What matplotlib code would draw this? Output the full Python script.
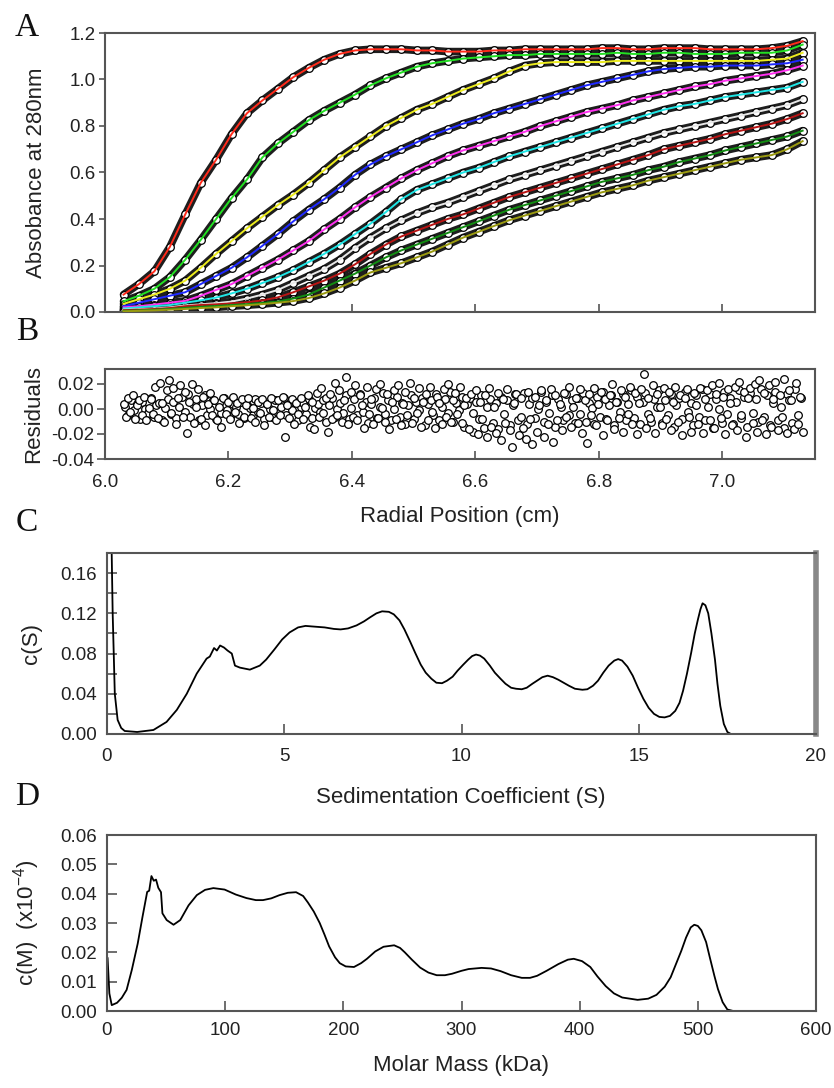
import numpy as np
import matplotlib
matplotlib.use("Agg")
import matplotlib.pyplot as plt
from matplotlib.ticker import MultipleLocator, FormatStrFormatter, FixedLocator

plt.rcParams['font.family'] = ['Liberation Sans', 'DejaVu Sans']
plt.rcParams['axes.unicode_minus'] = False
plt.rcParams['mathtext.fontset'] = 'custom'
plt.rcParams['mathtext.rm'] = 'Liberation Sans'
plt.rcParams['mathtext.it'] = 'Liberation Sans:italic'
plt.rcParams['mathtext.bf'] = 'Liberation Sans:bold'

# ---------------- Panel A data: absorbance scans (radial position, cm) ----------------
radius = np.linspace(6.03, 7.13, 45)

scan_red = [0.075, 0.12, 0.175, 0.28, 0.42,
            0.555, 0.655, 0.765, 0.855, 0.91,
            0.96, 1.01, 1.05, 1.085, 1.11,
            1.125, 1.13, 1.13, 1.13, 1.125,
            1.125, 1.12, 1.12, 1.12, 1.125,
            1.125, 1.13, 1.13, 1.13, 1.13,
            1.13, 1.135, 1.135, 1.13, 1.13,
            1.135, 1.135, 1.135, 1.13, 1.13,
            1.13, 1.13, 1.135, 1.145, 1.165]
scan_green = [0.046, 0.07, 0.10, 0.15, 0.225,
              0.31, 0.40, 0.49, 0.57, 0.665,
              0.725, 0.775, 0.825, 0.865, 0.90,
              0.935, 0.975, 1.005, 1.03, 1.055,
              1.07, 1.08, 1.09, 1.095, 1.10,
              1.105, 1.105, 1.11, 1.11, 1.11,
              1.11, 1.11, 1.115, 1.11, 1.11,
              1.115, 1.115, 1.11, 1.11, 1.11,
              1.115, 1.115, 1.115, 1.125, 1.15]
scan_yellow = [0.035, 0.055, 0.075, 0.10, 0.135,
               0.19, 0.25, 0.305, 0.36, 0.41,
               0.46, 0.505, 0.555, 0.61, 0.665,
               0.71, 0.755, 0.80, 0.835, 0.87,
               0.895, 0.925, 0.955, 0.98, 1.005,
               1.035, 1.06, 1.07, 1.075, 1.075,
               1.075, 1.075, 1.08, 1.08, 1.08,
               1.08, 1.08, 1.08, 1.08, 1.08,
               1.08, 1.08, 1.085, 1.09, 1.115]
scan_blue = [0.025, 0.04, 0.055, 0.07, 0.085,
             0.12, 0.155, 0.19, 0.235, 0.285,
             0.335, 0.39, 0.44, 0.485, 0.535,
             0.59, 0.635, 0.67, 0.70, 0.73,
             0.76, 0.785, 0.81, 0.83, 0.855,
             0.875, 0.895, 0.915, 0.935, 0.955,
             0.975, 0.99, 1.005, 1.02, 1.035,
             1.045, 1.05, 1.055, 1.055, 1.06,
             1.06, 1.06, 1.065, 1.07, 1.085]
scan_magenta = [0.02, 0.025, 0.032, 0.04, 0.048,
                0.07, 0.095, 0.12, 0.155, 0.19,
                0.225, 0.265, 0.305, 0.355, 0.40,
                0.45, 0.495, 0.535, 0.575, 0.61,
                0.64, 0.67, 0.695, 0.715, 0.735,
                0.755, 0.775, 0.80, 0.82, 0.84,
                0.86, 0.875, 0.89, 0.91, 0.925,
                0.94, 0.955, 0.97, 0.98, 0.995,
                1.005, 1.015, 1.025, 1.04, 1.06]
scan_cyan = [0.015, 0.02, 0.025, 0.03, 0.04,
             0.05, 0.062, 0.08, 0.10, 0.125,
             0.15, 0.18, 0.215, 0.25, 0.29,
             0.335, 0.38, 0.43, 0.485, 0.525,
             0.55, 0.575, 0.60, 0.62, 0.645,
             0.67, 0.69, 0.71, 0.73, 0.75,
             0.77, 0.79, 0.81, 0.83, 0.85,
             0.87, 0.885, 0.895, 0.91, 0.925,
             0.935, 0.945, 0.955, 0.965, 0.99]
scan_gray = [0.01, 0.012, 0.015, 0.02, 0.028,
             0.033, 0.038, 0.045, 0.058, 0.075,
             0.095, 0.125, 0.155, 0.185, 0.225,
             0.275, 0.32, 0.36, 0.395, 0.425,
             0.45, 0.47, 0.495, 0.52, 0.545,
             0.57, 0.59, 0.61, 0.63, 0.65,
             0.67, 0.69, 0.71, 0.73, 0.75,
             0.77, 0.785, 0.80, 0.815, 0.83,
             0.845, 0.86, 0.875, 0.89, 0.915]
scan_darkred = [0.008, 0.01, 0.013, 0.017, 0.025,
                0.03, 0.033, 0.037, 0.042, 0.05,
                0.063, 0.085, 0.11, 0.135, 0.165,
                0.205, 0.25, 0.29, 0.325, 0.35,
                0.375, 0.40, 0.42, 0.445, 0.47,
                0.495, 0.515, 0.535, 0.555, 0.575,
                0.595, 0.615, 0.635, 0.655, 0.675,
                0.70, 0.715, 0.73, 0.745, 0.765,
                0.78, 0.795, 0.81, 0.83, 0.855]
scan_darkgreen = [0.005, 0.007, 0.01, 0.013, 0.018,
                  0.022, 0.026, 0.03, 0.034, 0.039,
                  0.045, 0.058, 0.075, 0.105, 0.135,
                  0.165, 0.20, 0.235, 0.265, 0.29,
                  0.315, 0.34, 0.365, 0.39, 0.415,
                  0.44, 0.46, 0.48, 0.50, 0.52,
                  0.54, 0.56, 0.575, 0.59, 0.61,
                  0.625, 0.645, 0.66, 0.675, 0.695,
                  0.71, 0.725, 0.74, 0.755, 0.78]
scan_olive = [0.003, 0.005, 0.007, 0.01, 0.013,
              0.017, 0.02, 0.025, 0.029, 0.034,
              0.04, 0.047, 0.06, 0.08, 0.105,
              0.135, 0.17, 0.19, 0.21, 0.235,
              0.26, 0.29, 0.32, 0.345, 0.37,
              0.395, 0.415, 0.435, 0.455, 0.475,
              0.495, 0.515, 0.53, 0.545, 0.565,
              0.58, 0.595, 0.61, 0.625, 0.64,
              0.655, 0.665, 0.675, 0.70, 0.735]

scans = [scan_red, scan_green, scan_yellow, scan_blue, scan_magenta,
         scan_cyan, scan_gray, scan_darkred, scan_darkgreen, scan_olive]
fit_colors = ['#ff2a1a', '#22e022', '#ecec1e', '#1e28ff', '#ff30f0',
              '#1ee6e6', '#e8e8e8', '#b81414', '#128c12', '#9a9a10']

# ---------------- Panel B data: residuals (x 1e-3) ----------------
resid_x = np.linspace(6.03, 7.13, 300)
resid_milli = [
    4, -6, 9, -2, 11, -8, 3, 7, -5, 10, -9, 1, 8, -4, 18, -7, 21, 5, -10, 15,
    23, -3, 17, -12, 9, 19, -6, 14, -19, 6, 20, -11, 2, 16, -8, 10, -13, 4, 13, -5,
    7, -9, 2, -14, 9, -4, 6, -8, 10, -2, 5, -11, 8, -6, 3, 9, -7, 1, -10, 6,
    -3, 8, -13, 4, -6, 9, -1, -9, 7, -5, 10, -22, 3, -7, 8, -12, 5, -4, 9, -8,
    2, 11, -14, 6, -16, 13, -6, 17, -3, 9, -18, 12, -8, 21, -5, 15, -10, 7, 26, -12,
    14, -6, 19, -9, 11, 3, -15, 18, -4, 8, -12, 16, -7, 20, 1, -10, 12, -16, 6, 15,
    -8, 19, -13, 4, 14, -5, 21, -11, 9, -3, 17, -14, 6, 12, -9, 18, -2, -15, 10, 5,
    -12, 16, -6, 20, -10, 7, 13, -4, 18, -11, 3, 9, -16, 12, -3, 15, -20, 6, -8, 11,
    -22, 17, -14, 2, -19, 13, -25, 8, -11, 16, -17, -30, 5, 12, -21, 9, -15, -24, 14, -8,
    -28, 10, -18, 3, 15, -22, 7, -12, 16, -26, 11, -9, 4, -17, 13, -6, 18, -14, 2, 9,
    -11, 16, -19, 7, -27, 12, -5, 17, -13, 4, 14, -21, 8, -9, 11, 20, -16, 6, -7, 15,
    -18, 10, -4, 18, -12, 13, -20, 5, 16, 28, -15, 9, -7, 19, -19, 12, 2, -13, 17, -8,
    14, -17, 6, 18, -10, 11, -21, 9, 16, -6, -18, 13, 3, -12, 17, -19, 8, 15, -9, 19,
    -15, 12, 21, -7, 10, -20, 16, 5, -13, 18, -17, 22, -5, 14, -22, 9, 17, -11, 20, -18,
    23, -9, 13, -20, 19, -14, 8, 22, -17, 11, -6, 24, -19, 15, 7, -16, 21, -12, 10, -18,
]
resid_core_x = np.linspace(6.033, 7.127, 240)
resid_core_milli = [
    2, -5, 7, -1, 4, -8, 6, 0, -3, 9, -6, 3, 5, -9, 1, 8, -4, 6, -7, 2,
    10, -2, 12, -6, 4, 8, -9, 3, 11, -5, 0, 7, -8, 5, -3, 9, -1, -6, 4, 2,
    -4, 6, -7, 3, 1, -5, 8, -2, 5, -8, 4, 0, -6, 7, -3, 2, 9, -5, 3, -1,
    6, -9, 2, 5, -4, 8, -7, 1, 4, -2, 7, -10, 3, 9, -6, 0, 5, -3, 11, -8,
    1, 8, -5, 12, -2, 6, -11, 4, 9, -7, 2, 13, -4, 7, -9, 0, 10, -6, 5, -12,
    3, 11, -8, 6, -1, 9, -13, 4, 7, -5, 12, -9, 2, 8, -3, 14, -10, 5, -1, 10,
    -14, 4, 9, -18, 6, -8, 11, -15, 2, 8, -11, 5, -16, 10, -4, 7, -13, 3, 12, -9,
    -6, 13, -12, 4, 9, -7, 0, 14, -10, 6, -3, 11, -14, 8, 2, -9, 12, -5, 7, -11,
    9, -4, 13, -10, 5, 1, -12, 10, -6, 14, -8, 3, 11, -13, 6, -2, 12, -9, 4, 15,
    -7, 10, -12, 6, 13, -4, -10, 8, 2, 15, -11, 7, -5, 12, -14, 3, 9, -8, 14, -2,
    5, -13, 11, -6, 16, -9, 2, 12, -15, 8, 0, -11, 14, -4, 9, -12, 6, 15, -7, 10,
    -14, 13, -3, 8, -10, 16, -6, 11, -13, 5, 14, -9, 2, -15, 12, 7, -11, 16, -5, 9,
]
residuals = np.array(resid_milli) * 1e-3
residuals_core = np.array(resid_core_milli) * 1e-3

# ---------------- Panel C data: c(S) ----------------
sed_coef = [0.10, 0.16, 0.22, 0.30, 0.40, 0.50, 0.85, 1.31, 1.68, 1.97,
            2.25, 2.53, 2.81, 2.90, 3.02, 3.10, 3.19, 3.30, 3.40, 3.52,
            3.61, 3.75, 4.03, 4.31, 4.49, 4.72, 4.94, 5.15, 5.39, 5.60,
            5.77, 6.14, 6.40, 6.59, 6.80, 7.04, 7.25, 7.42, 7.60, 7.76,
            7.95, 8.09, 8.25, 8.39, 8.55, 8.69, 8.85, 8.99, 9.15, 9.29,
            9.45, 9.59, 9.75, 9.89, 10.05, 10.19, 10.30, 10.41, 10.52, 10.64,
            10.80, 10.94, 11.10, 11.24, 11.40, 11.54, 11.70, 11.84, 12.00, 12.13,
            12.28, 12.43, 12.58, 12.73, 12.88, 13.03, 13.20, 13.41, 13.55, 13.71,
            13.85, 14.00, 14.15, 14.31, 14.42, 14.53, 14.68, 14.83, 14.98, 15.13,
            15.28, 15.43, 15.58, 15.73, 15.88, 16.03, 16.15, 16.25, 16.36, 16.48,
            16.58, 16.67, 16.74, 16.80, 16.88, 16.96, 17.05, 17.15, 17.22, 17.30,
            17.40, 17.50, 17.60, 18.0, 20.0]
c_s = [0.25, 0.12, 0.04, 0.014, 0.006, 0.003, 0.002, 0.004, 0.012, 0.024,
       0.040, 0.060, 0.075, 0.077, 0.0855, 0.083, 0.088, 0.086, 0.083, 0.080,
       0.068, 0.066, 0.064, 0.068, 0.074, 0.084, 0.094, 0.101, 0.106, 0.1075,
       0.107, 0.106, 0.1045, 0.104, 0.105, 0.108, 0.112, 0.116, 0.120, 0.122,
       0.1215, 0.119, 0.113, 0.104, 0.092, 0.081, 0.069, 0.061, 0.055, 0.051,
       0.0505, 0.053, 0.057, 0.063, 0.069, 0.074, 0.0775, 0.079, 0.078, 0.075,
       0.068, 0.061, 0.055, 0.050, 0.046, 0.045, 0.0445, 0.046, 0.050, 0.053,
       0.0565, 0.058, 0.0565, 0.054, 0.051, 0.048, 0.045, 0.044, 0.0445, 0.048,
       0.053, 0.061, 0.068, 0.073, 0.0745, 0.073, 0.067, 0.058, 0.046, 0.035,
       0.026, 0.020, 0.017, 0.0165, 0.018, 0.023, 0.031, 0.043, 0.060, 0.081,
       0.100, 0.114, 0.124, 0.130, 0.128, 0.120, 0.100, 0.074, 0.050, 0.028,
       0.010, 0.002, 0.0, 0.0, 0.0]

# ---------------- Panel D data: c(M) ----------------
molar_mass = [0.5, 2, 4, 8.5, 12.5, 16.6, 21, 26, 30, 34,
              35.7, 37.6, 39.6, 41.5, 43.4, 45.7, 46.9, 50.5, 56.3, 62,
              69, 76, 83, 90, 99.5, 109, 118, 126, 132, 139,
              146, 153, 160, 166, 170, 175, 180, 184, 188, 193,
              197, 202, 209, 215, 220, 227, 234, 243, 248, 252,
              258, 265, 272, 279, 286, 292, 300, 306, 317, 325,
              333, 342, 351, 358, 364, 372, 382, 390, 395, 402,
              409, 415, 422, 429, 436, 449, 458, 465, 472, 477,
              481, 486, 490, 494, 497, 500, 503, 507, 510, 514,
              517, 521, 525, 530, 600]
c_m = [0.018, 0.006, 0.002, 0.0028, 0.0045, 0.0072, 0.014, 0.023, 0.032, 0.0406,
       0.041, 0.046, 0.0444, 0.0448, 0.042, 0.0405, 0.0333, 0.031, 0.0294, 0.031,
       0.036, 0.0395, 0.0413, 0.0419, 0.0414, 0.0397, 0.0385, 0.0378, 0.0378, 0.0384,
       0.0395, 0.0403, 0.0405, 0.0392, 0.037, 0.0339, 0.030, 0.0261, 0.022, 0.0183,
       0.0163, 0.0152, 0.015, 0.0163, 0.0178, 0.0203, 0.0219, 0.0224, 0.0215, 0.0200,
       0.0175, 0.0148, 0.0131, 0.0122, 0.0122, 0.0127, 0.0137, 0.0143, 0.0147, 0.0145,
       0.0136, 0.0122, 0.0113, 0.0113, 0.0120, 0.0137, 0.0160, 0.0175, 0.0178, 0.0170,
       0.0150, 0.0118, 0.0085, 0.0060, 0.0046, 0.0038, 0.0042, 0.0055, 0.0083, 0.0115,
       0.0155, 0.0205, 0.0250, 0.0285, 0.0294, 0.0290, 0.0275, 0.0235, 0.0185, 0.0120,
       0.0075, 0.0030, 0.0005, 0.0, 0.0]

# ---------------- Figure ----------------
W, H = 834, 1088
fig = plt.figure(figsize=(W / 100, H / 100), dpi=100)

def rect(l, t, r, b):
    return [l / W, 1 - b / H, (r - l) / W, (b - t) / H]

axA = fig.add_axes(rect(105, 33, 815, 312))
axB = fig.add_axes(rect(105, 369, 815, 459))
axC = fig.add_axes(rect(107, 553, 816, 734))
axD = fig.add_axes(rect(107, 835, 816, 1011))

SPINE = '#555555'
TXT = '#222222'
for ax in (axA, axB, axC, axD):
    for s in ax.spines.values():
        s.set_color(SPINE)
        s.set_linewidth(1.5)
    ax.tick_params(colors=SPINE, labelcolor=TXT, labelsize=13.5, width=1.2)

# Panel A: dense band of open-circle data around each coloured fit
for vals in scans:
    axA.plot(radius, vals, color='#1e1e1e', lw=5.5, zorder=1, solid_capstyle='round')
for vals in scans:
    axA.plot(radius, vals, ls='none', marker='o', ms=5.5, mfc='white',
             mec='black', mew=0.9, zorder=2)
for vals, col in zip(scans, fit_colors):
    axA.plot(radius, vals, color=col, lw=1.4, zorder=3)
axA.set_xlim(6.0, 7.15)
axA.set_ylim(0, 1.2)
axA.yaxis.set_major_locator(MultipleLocator(0.2))
axA.yaxis.set_major_formatter(FormatStrFormatter('%.1f'))
axA.xaxis.set_major_locator(FixedLocator([6.2, 6.4, 6.6, 6.8, 7.0]))
axA.tick_params(axis='x', direction='in', length=6, labelbottom=False)
axA.tick_params(axis='y', direction='out', length=4, pad=3)
axA.set_ylabel('Absobance at 280nm', fontsize=16, color=TXT)
axA.yaxis.set_label_coords((47 - 105) / 710, 0.5)

# Panel B
axB.plot(resid_core_x, residuals_core, ls='none', marker='o', ms=5.5, mfc='white',
         mec='black', mew=0.9)
axB.plot(resid_x, residuals, ls='none', marker='o', ms=5.5, mfc='white',
         mec='black', mew=0.9)
axB.set_xlim(6.0, 7.15)
axB.set_ylim(-0.04, 0.032)
axB.yaxis.set_major_locator(FixedLocator([-0.04, -0.02, 0.0, 0.02]))
axB.yaxis.set_major_formatter(FormatStrFormatter('%.2f'))
axB.xaxis.set_major_locator(FixedLocator([6.0, 6.2, 6.4, 6.6, 6.8, 7.0]))
axB.xaxis.set_major_formatter(FormatStrFormatter('%.1f'))
axB.tick_params(axis='x', direction='in', length=6, pad=11)
axB.tick_params(axis='y', direction='out', length=6, pad=2)
axB.set_ylabel('Residuals', fontsize=16, color=TXT)
axB.yaxis.set_label_coords((44 - 105) / 710, 0.5)
fig.text(460 / W, 1 - 517 / H, 'Radial Position (cm)', ha='center', va='center',
         fontsize=16, color=TXT)

# Panel C
axC.plot(sed_coef, c_s, color='black', lw=1.3)
axC.set_xlim(0, 20)
axC.set_ylim(0, 0.18)
axC.yaxis.set_major_locator(FixedLocator([0.0, 0.04, 0.08, 0.12, 0.16]))
axC.yaxis.set_minor_locator(FixedLocator([0.02, 0.06, 0.10, 0.14]))
axC.yaxis.set_major_formatter(FormatStrFormatter('%.2f'))
axC.xaxis.set_major_locator(FixedLocator([0, 5, 10, 15, 20]))
axC.tick_params(axis='both', which='both', direction='in')
axC.tick_params(axis='y', which='major', length=7, pad=7)
axC.tick_params(axis='y', which='minor', length=7, width=1.2, colors=SPINE)
axC.tick_params(axis='x', length=7, pad=10)
axC.spines['right'].set_color('#888888')
axC.spines['right'].set_linewidth(4)
axC.set_ylabel('c(S)', fontsize=16, color=TXT)
axC.yaxis.set_label_coords((42 - 107) / 709, 0.5)
fig.text(461 / W, 1 - 797 / H, 'Sedimentation Coefficient (S)', ha='center',
         va='center', fontsize=16, color=TXT)

# Panel D
axD.plot(molar_mass, c_m, color='black', lw=1.3)
axD.set_xlim(0, 600)
axD.set_ylim(0, 0.06)
axD.yaxis.set_major_locator(MultipleLocator(0.01))
axD.yaxis.set_major_formatter(FormatStrFormatter('%.2f'))
axD.xaxis.set_major_locator(MultipleLocator(100))
axD.tick_params(axis='both', direction='in')
axD.tick_params(axis='y', length=7, pad=7)
axD.tick_params(axis='x', length=7, pad=8)
axD.set_ylabel(r'c(M)  (x10$^{-4}$)', fontsize=16, color=TXT)
axD.yaxis.set_label_coords((42 - 107) / 709, 0.5)
fig.text(461 / W, 1 - 1066 / H, 'Molar Mass (kDa)', ha='center', va='center',
         fontsize=16, color=TXT)

# Panel letters
for letter, yc in (('A', 28), ('B', 332), ('C', 523), ('D', 797)):
    fig.text(27 / W, 1 - yc / H, letter, ha='center', va='center',
             fontsize=24, family=['Liberation Serif', 'DejaVu Serif'], color='#111111')

fig.savefig('out.png', dpi=100)
